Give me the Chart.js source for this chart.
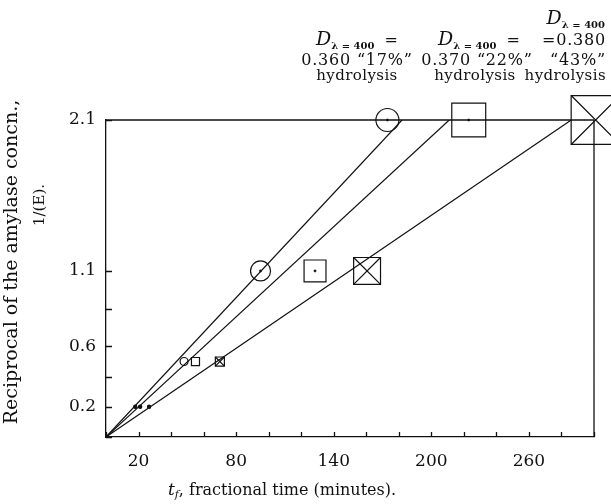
<!DOCTYPE html>
<html>
<head>
<meta charset="utf-8">
<script src="https://cdn.jsdelivr.net/npm/chart.js@4.4.0/dist/chart.umd.min.js"></script>
<style>
  html, body { margin: 0; padding: 0; background: #fff; overflow: hidden; }
  canvas { display: block; }
</style>
</head>
<body>
<canvas id="fracPlot" width="611" height="504"></canvas>
<script>
// reciprocal amylase concentration levels, 1/(E)
var concn = [0.2, 0.5, 1.1, 2.1];
// fractional time (minutes) at each level, one list per hydrolysis series
var tCircle = [18, 48, 95, 173];    // "17%" hydrolysis
var tSquare = [21, 55, 128.5, 223]; // "22%" hydrolysis
var tCross = [26.5, 70, 160.5, 301]; // "43%" hydrolysis
// where each fitted line from the origin meets 1/(E) = 2.1
var fitEnds = [182, 211, 286];

// axis ticks
var xTicks = [0, 20, 40, 60, 80, 100, 120, 140, 160, 180, 200, 220, 240, 260, 280, 300];
var xLabels = [20, 80, 140, 200, 260];
var yTicks = [0, 0.2, 0.4, 0.6, 0.85, 1.1, 2.1];
var yLabels = [0.2, 0.6, 1.1, 2.1];

var INK = '#111';
var SERIF = '"DejaVu Serif", serif';
var NONE = 'rgba(0,0,0,0)';

function pts(ts) {
    return ts.map(function (t, i) { return { x: t, y: concn[i] }; });
}

function drawRuns(ctx, x, y, runs, align) {
    // runs: [{t, font, dy, ls}] drawn side by side from a common baseline
    var w = 0;
    runs.forEach(function (r) {
        ctx.font = r.font; ctx.letterSpacing = r.ls || '0px';
        w += ctx.measureText(r.t).width;
    });
    var cx = align === 'center' ? x - w / 2 : (align === 'right' ? x - w : x);
    ctx.textAlign = 'left';
    ctx.textBaseline = 'alphabetic';
    runs.forEach(function (r) {
        ctx.font = r.font; ctx.letterSpacing = r.ls || '0px';
        ctx.fillText(r.t, cx, y + (r.dy || 0));
        cx += ctx.measureText(r.t).width;
    });
    ctx.letterSpacing = '0px';
}

function dLambda(tail) {
    var runs = [
        { t: 'D', font: 'italic 19px ' + SERIF },
        { t: 'λ = 400', font: 'bold 10px ' + SERIF, dy: 4 }
    ];
    if (tail) runs.push({ t: tail, font: '16px ' + SERIF });
    return runs;
}

function row(text) {
    return [{ t: text, font: '16px ' + SERIF, ls: '0.8px' }];
}

function hydro() {
    return [{ t: 'hydrolysis', font: '15px ' + SERIF, ls: '0.4px' }];
}

// inward tick marks, top/right frame, annotations and axis titles
var decor = {
    id: 'decor',
    afterDraw: function (chart) {
        var ctx = chart.ctx, a = chart.chartArea;
        var xs = chart.scales.x, ys = chart.scales.y;
        ctx.save();
        ctx.strokeStyle = INK;
        ctx.lineWidth = 1.3;
        ctx.beginPath();
        ctx.moveTo(a.left, a.top); ctx.lineTo(a.right, a.top);
        ctx.moveTo(a.right, a.top); ctx.lineTo(a.right, a.bottom);
        xTicks.forEach(function (v) {
            var px = Math.round(xs.getPixelForValue(v)) + 0.5;
            ctx.moveTo(px, a.bottom); ctx.lineTo(px, a.bottom - 5);
        });
        yTicks.forEach(function (v) {
            var py = Math.round(ys.getPixelForValue(v)) + 0.5;
            ctx.moveTo(a.left, py); ctx.lineTo(a.left + 6, py);
        });
        ctx.stroke();

        ctx.fillStyle = INK;
        // column annotations above the plot
        drawRuns(ctx, 357, 45, dLambda('  ='), 'center');
        drawRuns(ctx, 357, 65, row('0.360 “17%”'), 'center');
        drawRuns(ctx, 357, 80, hydro(), 'center');

        drawRuns(ctx, 479, 45, dLambda('  ='), 'center');
        drawRuns(ctx, 477, 65, row('0.370 “22%”'), 'center');
        drawRuns(ctx, 475, 80, hydro(), 'center');

        drawRuns(ctx, 605, 24, dLambda(''), 'right');
        drawRuns(ctx, 606, 45, row('=0.380'), 'right');
        drawRuns(ctx, 606, 65, row('“43%”'), 'right');
        drawRuns(ctx, 606, 80, hydro(), 'right');

        // x axis title
        drawRuns(ctx, 282, 495, [
            { t: 't', font: 'italic 17px ' + SERIF },
            { t: 'f', font: 'italic 11px ' + SERIF, dy: 3 },
            { t: ', fractional time (minutes).', font: '16px ' + SERIF }
        ], 'center');

        // y axis title, two rotated lines
        ctx.save();
        ctx.translate(17, 262);
        ctx.rotate(-Math.PI / 2);
        drawRuns(ctx, 0, 0, [{ t: 'Reciprocal of the amylase concn.,', font: '19px ' + SERIF }], 'center');
        ctx.restore();
        ctx.save();
        ctx.translate(44, 205);
        ctx.rotate(-Math.PI / 2);
        drawRuns(ctx, 0, 0, [{ t: '1/(E).', font: '15px ' + SERIF }], 'center');
        ctx.restore();
        ctx.restore();
    }
};

function setupChart() {
    var ctx = document.getElementById('fracPlot').getContext('2d');
    var marker = {
        showLine: false,
        clip: false,
        pointBorderColor: INK,
        pointBorderWidth: 1.2,
        pointHoverRadius: 0
    };
    var firstDot = [INK, NONE, NONE, NONE];

    var datasets = [
        // centre dots in the larger circles and squares
        Object.assign({}, marker, {
            label: 'dots', data: pts(tCircle).concat(pts(tSquare)),
            pointStyle: 'circle', pointRadius: [0, 0, 1.1, 1.1, 0, 0, 1.1, 1.1],
            pointBackgroundColor: INK, pointBorderWidth: 0.6
        }),
        Object.assign({}, marker, {
            label: '17% hydrolysis', data: pts(tCircle),
            pointStyle: 'circle', pointRadius: [1.6, 4, 10, 11.5],
            pointBackgroundColor: firstDot
        }),
        Object.assign({}, marker, {
            label: '22% hydrolysis', data: pts(tSquare),
            pointStyle: ['circle', 'rect', 'rect', 'rect'], pointRadius: [1.6, 5.7, 15.5, 24],
            pointBackgroundColor: firstDot
        }),
        Object.assign({}, marker, {
            label: '43% hydrolysis', data: pts(tCross),
            pointStyle: ['circle', 'rect', 'rect', 'rect'], pointRadius: [1.6, 6.4, 19, 34.6],
            pointBackgroundColor: firstDot
        }),
        Object.assign({}, marker, {
            label: '43% cross', data: pts(tCross),
            pointStyle: 'crossRot', pointRadius: [0, 6.4, 19, 34.6]
        })
    ];
    fitEnds.forEach(function (t, i) {
        datasets.push({
            label: 'fit ' + (i + 1),
            data: [{ x: 0, y: 0 }, { x: t, y: concn[concn.length - 1] }],
            showLine: true, pointRadius: 0,
            borderColor: INK, borderWidth: 1.2
        });
    });

    new Chart(ctx, {
        type: 'scatter',
        data: { datasets: datasets },
        options: {
            responsive: false,
            animation: false,
            events: [],
            // big marker at the right edge must not shrink the plot
            layout: { autoPadding: false, padding: { left: 0, top: 120, right: 17, bottom: 0 } },
            plugins: { legend: { display: false }, tooltip: { enabled: false } },
            scales: {
                x: {
                    type: 'linear', min: 0, max: 300,
                    afterFit: function (s) { s.height = 67; s.paddingLeft = 0; s.paddingRight = 0; },
                    afterBuildTicks: function (s) { s.ticks = xTicks.map(function (v) { return { value: v }; }); },
                    grid: { display: true, drawOnChartArea: false, drawTicks: true, tickLength: 14, tickColor: NONE },
                    border: { display: true, color: INK, width: 1.3 },
                    ticks: {
                        autoSkip: false, maxRotation: 0, padding: 0, color: INK,
                        font: { family: SERIF, size: 17 },
                        callback: function (v) { return xLabels.indexOf(v) >= 0 ? String(v) : ''; }
                    }
                },
                y: {
                    type: 'linear', min: 0, max: 2.1,
                    afterFit: function (s) { s.width = 106; },
                    afterBuildTicks: function (s) { s.ticks = yTicks.map(function (v) { return { value: v }; }); },
                    grid: { display: true, drawOnChartArea: false, drawTicks: true, tickLength: 10, tickColor: NONE },
                    border: { display: true, color: INK, width: 1.3 },
                    ticks: {
                        autoSkip: false, padding: 0, color: INK,
                        font: { family: SERIF, size: 17 },
                        callback: function (v) { return yLabels.indexOf(v) >= 0 ? v.toFixed(1) : ''; }
                    }
                }
            }
        },
        plugins: [decor]
    });
}

setupChart();
</script>
</body>
</html>
